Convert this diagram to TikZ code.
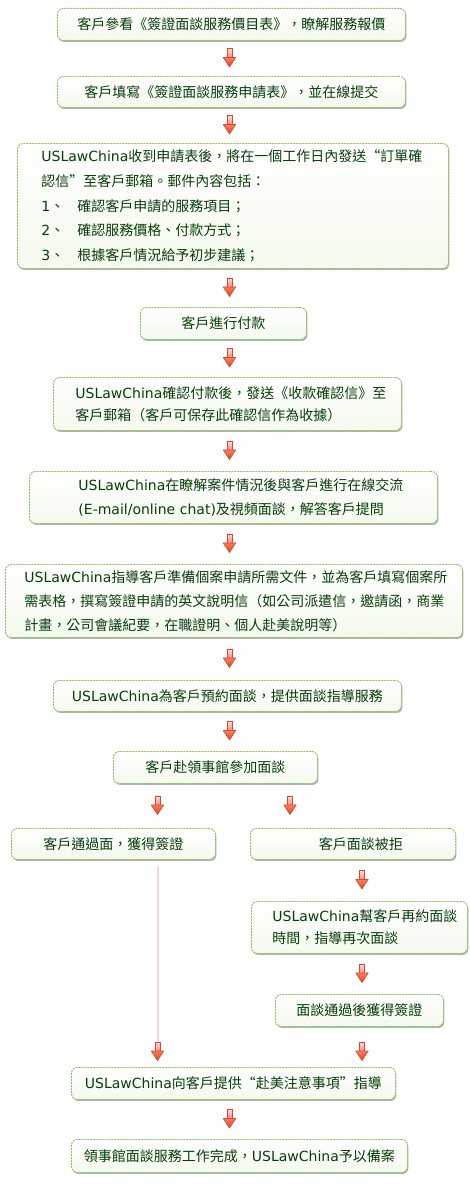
\documentclass[tikz,border=0pt]{standalone}
\usepackage{fontspec}
\newfontfamily\cjk{Noto Sans CJK TC}
\newfontfamily\lat{DejaVu Sans}
\usetikzlibrary{calc,shadows}
\definecolor{tgreen}{RGB}{8,62,8}
\definecolor{bgreen}{RGB}{140,192,88}
\definecolor{fmid}{RGB}{220,237,203}
\definecolor{fbot}{RGB}{244,250,238}
\definecolor{shafttop}{RGB}{250,222,216}
\definecolor{shaftbot}{RGB}{236,132,116}
\definecolor{arrowedge}{RGB}{212,74,56}
\definecolor{headtop}{RGB}{246,128,88}
\definecolor{headbot}{RGB}{226,66,32}
\definecolor{pinkline}{RGB}{243,216,211}
\newcommand\usl{{\lat USLawChina}}
\newcommand\flowarrow[3]{%
  \coordinate (fa) at ($(#1.south)!.5!(#2.north)$);
  \pic at (#3 |- fa) {blockarrow};
}
\tikzset{
  blockarrow/.pic={
    \shade[top color=shafttop, bottom color=shaftbot, draw=arrowedge, line width=0.7pt] (-2.6,-10) rectangle (2.6,0);
    \shade[top color=headtop, bottom color=headbot, draw=arrowedge, line width=0.7pt, line join=round] (-6.2,-1) -- (6.2,-1) -- (0,8.5) -- cycle;
  },
  box/.style={draw=bgreen, line width=0.9pt, dash pattern=on 2pt off 1pt,
    rounded corners=6pt, top color=white, middle color=fmid, bottom color=fbot,
    drop shadow={shadow xshift=1pt, shadow yshift=-1.5pt, fill=black!30, opacity=1},
    text=tgreen, font=\cjk\fontsize{14}{24}\selectfont, inner ysep=0pt, anchor=north west},
  cbox/.style={box, align=center, inner xsep=4pt},
  lbox/.style={box, align=left},
  link/.style={draw=pinkline, line width=2pt},
}
\begin{document}
\begin{tikzpicture}[x=1pt,y=-1pt]
\fill[white] (0,0) rectangle (470,1199);
\useasboundingbox (0,0) rectangle (470,1199);
\coordinate (cM) at (229.5,0);
\coordinate (cL) at (157.5,0);
\coordinate (cB) at (290,0);
\coordinate (cR) at (362,0);

\node[cbox, text width=340pt, minimum height=32pt] (b1) at (57,8) {客戶參看《簽證面談服務價目表》，瞭解服務報價};
\node[cbox, text width=340pt, minimum height=31pt] (b2) at (57,76) {客戶填寫《簽證面談服務申請表》，並在線提交};
\node[lbox, inner xsep=24pt, text width=383pt, minimum height=125pt, font=\cjk\fontsize{14}{24.75}\selectfont] (b3) at (17,143)
  {\usl 收到申請表後，將在一個工作日內發送“訂單確\\
   認信”至客戶郵箱。郵件內容包括：\\
   \makebox[36pt][l]{{\lat 1}、}確認客戶申請的服務項目；\\
   \makebox[36pt][l]{{\lat 2}、}確認服務價格、付款方式；\\
   \makebox[36pt][l]{{\lat 3}、}根據客戶情況給予初步建議；};
\node[cbox, text width=158pt, minimum height=32pt] (b4) at (140,307) {客戶進行付款};
\node[lbox, inner xsep=22pt, text width=304pt, minimum height=53pt, font=\cjk\fontsize{14}{22}\selectfont] (b5) at (53,377)
  {\usl 確認付款後，發送《收款確認信》至\\客戶郵箱（客戶可保存此確認信作為收據）};
\node[lbox, inner xsep=49pt, text width=310pt, minimum height=52pt] (b6) at (29,471)
  {\usl 在瞭解案件情況後與客戶進行在線交流\\{\lat (E-mail/online chat)}及視頻面談，解答客戶提問};
\node[lbox, inner xsep=19pt, text width=419pt, minimum height=73pt] (b7) at (5,564)
  {\usl 指導客戶準備個案申請所需文件，並為客戶填寫個案所\\
   需表格，撰寫簽證申請的英文說明信（如公司派遣信，邀請函，商業\\
   計畫，公司會議紀要，在職證明、個人赴美說明等）};
\node[cbox, text width=340pt, minimum height=31pt] (b8) at (53,680) {\usl 為客戶預約面談，提供面談指導服務};
\node[cbox, text width=196pt, minimum height=32pt] (b9) at (113,751) {客戶赴領事館參加面談};
\node[cbox, text width=196pt, minimum height=31pt] (b10a) at (11,828) {客戶通過面，獲得簽證};
\node[cbox, text width=197pt, minimum height=31pt] (b10b) at (250,828) {\hspace*{16pt}客戶面談被拒};
\node[lbox, inner xsep=21pt, text width=174pt, minimum height=52pt, font=\cjk\fontsize{14}{22}\selectfont] (b11) at (251,901)
  {\usl 幫客戶再約面談\\時間，指導再次面談};
\node[cbox, text width=160pt, minimum height=32pt] (b12) at (275,994) {面談通過後獲得簽證};
\node[cbox, text width=316pt, minimum height=32pt] (b13) at (71,1067) {\usl 向客戶提供“赴美注意事項”指導};
\node[cbox, text width=328pt, minimum height=33pt] (b14) at (71,1139) {領事館面談服務工作完成，\usl 予以備案};

\flowarrow{b1}{b2}{cM}
\flowarrow{b2}{b3}{cM}
\flowarrow{b3}{b4}{cM}
\flowarrow{b4}{b5}{cM}
\flowarrow{b5}{b6}{cM}
\flowarrow{b6}{b7}{cM}
\flowarrow{b7}{b8}{cM}
\flowarrow{b8}{b9}{cM}
\flowarrow{b9}{b10a}{cL}
\flowarrow{b9}{b10b}{cB}
\flowarrow{b10b}{b11}{cR}
\flowarrow{b11}{b12}{cR}
\flowarrow{b13}{b14}{cM}

\coordinate (la) at (157.5,1052);
\draw[link] ([yshift=-6pt]b10a.south -| la) -- ($(la)+(0,-10)$);
\pic at (la) {blockarrow};
\pic at (cR |- la) {blockarrow};
\end{tikzpicture}
\end{document}
